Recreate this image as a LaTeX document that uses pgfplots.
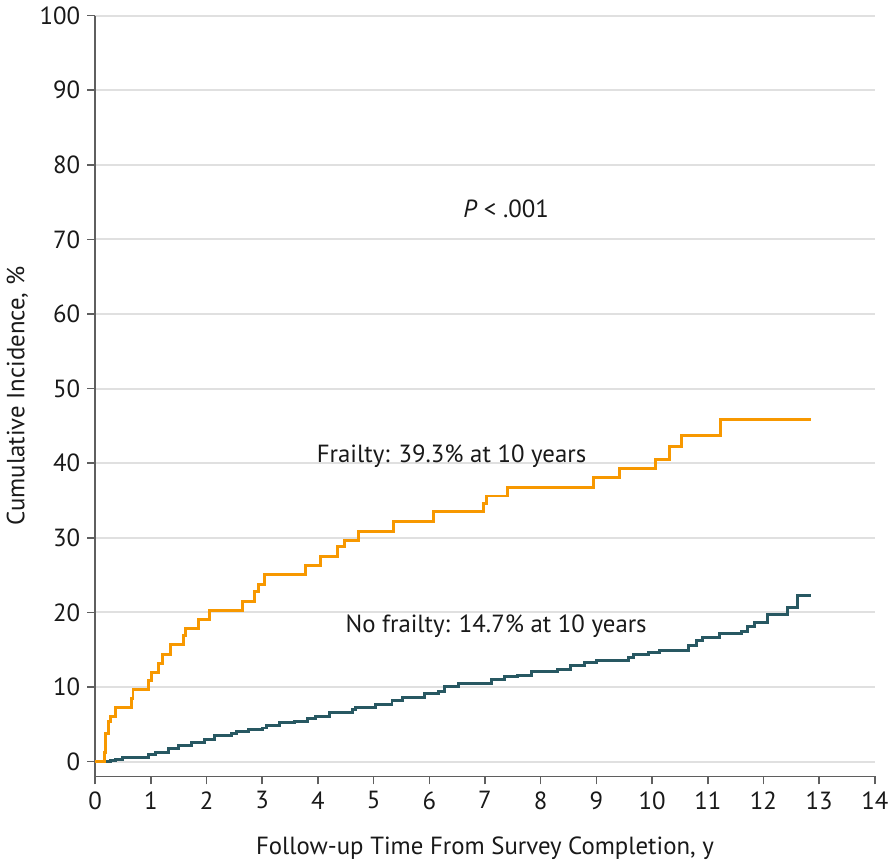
\documentclass[border=0pt]{standalone}
\usepackage{pgfplots}
\pgfplotsset{compat=1.18}
\usepackage{fontspec}
\setmainfont{PT Sans}
\definecolor{frail}{RGB}{247,152,0}
\definecolor{nofrail}{RGB}{40,88,98}
\definecolor{axgray}{RGB}{95,95,95}
\pgfplotstableread{
x y
0 0
0.16 1.2
0.19 3.8
0.24 5.4
0.28 6.0
0.36 7.2
0.65 8.5
0.68 9.7
0.96 10.9
1.02 12.0
1.14 13.1
1.21 14.4
1.35 15.7
1.59 16.9
1.62 17.8
1.85 19.0
2.06 20.3
2.64 21.5
2.86 22.8
2.94 23.7
3.04 25.1
3.78 26.3
4.05 27.5
4.35 28.8
4.47 29.7
4.72 30.9
5.35 32.2
6.08 33.5
6.97 34.6
7.02 35.6
7.41 36.8
8.94 38.1
9.42 39.3
10.06 40.5
10.32 42.2
10.52 43.7
11.22 45.9
12.86 45.9
}\frailty
\pgfplotstableread{
x y
0.17 0
0.27 0.1
0.37 0.3
0.49 0.5
0.78 0.6
0.96 0.9
1.08 1.2
1.32 1.8
1.5 2.1
1.73 2.5
1.97 3.0
2.15 3.5
2.45 3.7
2.54 4.0
2.75 4.3
3.01 4.5
3.07 4.9
3.31 5.2
3.58 5.35
3.81 5.8
3.96 6.1
4.2 6.55
4.62 7.0
4.68 7.3
5.03 7.6
5.33 8.2
5.51 8.6
5.92 9.1
6.16 9.4
6.28 10.0
6.52 10.5
7.11 11.0
7.35 11.4
7.59 11.5
7.83 12.1
8.3 12.4
8.54 12.9
8.78 13.3
9.01 13.6
9.58 14.0
9.67 14.3
9.94 14.65
10.14 14.9
10.65 15.5
10.8 16.2
10.91 16.6
11.21 17.2
11.6 17.5
11.72 18.1
11.84 18.6
12.07 19.7
12.43 20.6
12.61 22.2
12.86 22.2
}\nofrailty
\begin{document}
\begin{tikzpicture}
\begin{axis}[
  scale only axis, width=393pt, height=383.5pt,
  xmin=0, xmax=14, ymin=-2, ymax=100,
  axis x line*=bottom, axis y line*=left,
  axis line style={axgray, line width=0.8pt, -},
  xtick={0,1,...,14}, ytick={0,10,...,100},
  tick align=outside, major tick length=4pt,
  tick style={axgray, line width=0.8pt},
  ymajorgrids, grid style={black!12, line width=1pt},
  /pgf/number format/assume math mode=true,
  ticklabel style={font=\fontsize{12.5}{14}\selectfont, text=black!90},
  label style={font=\fontsize{12.5}{14}\selectfont, text=black!90},
  xlabel={Follow-up Time From Survey Completion, y},
  ylabel={Cumulative Incidence, \%},
  xlabel style={yshift=-7pt},
  ylabel style={yshift=-1pt},
  clip=false,
]
\addplot[const plot, nofrail, line width=1.5pt] table {\nofrailty};
\addplot[const plot, frail, line width=1.5pt] table {\frailty};
\node[font=\fontsize{12.5}{14}\selectfont, text=black!90] at (axis cs:7.38,74.1) {\textit{P} < .001};
\node[font=\fontsize{12.5}{14}\selectfont, text=black!90] at (axis cs:6.4,41.0) {Frailty: 39.3\% at 10 years};
\node[font=\fontsize{12.5}{14}\selectfont, text=black!90] at (axis cs:7.2,18.1) {No frailty: 14.7\% at 10 years};
\end{axis}
\end{tikzpicture}
\end{document}
